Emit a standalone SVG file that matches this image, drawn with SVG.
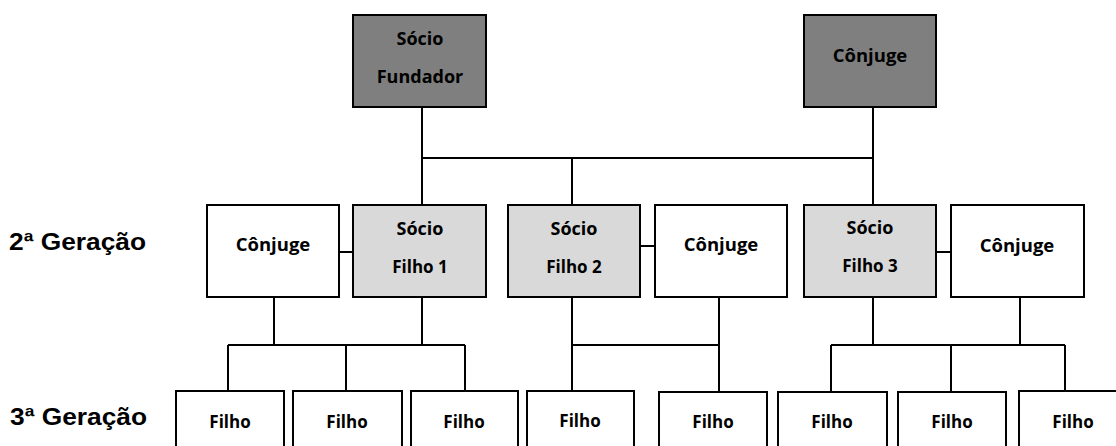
<svg xmlns="http://www.w3.org/2000/svg" width="1116" height="446" viewBox="0 0 1116 446">
<style>
.box{stroke:#000;stroke-width:2}
.dark{fill:#7f7f7f}
.light{fill:#d9d9d9}
.white{fill:#fff}
.t{font-family:"Open Sans","Liberation Sans",sans-serif;font-weight:700;font-size:17px;fill:#000;text-anchor:middle}
.s{font-size:18px}
.cj{font-size:18.5px}
.lvl{font-family:"Liberation Sans",Arial,sans-serif;font-weight:700;font-size:24px;fill:#000}
.c{stroke:#000;stroke-width:2;fill:none}
</style>
<rect x="0" y="0" width="1116" height="446" fill="#fff"/>
<g id="connectors">
<path class="c" d="M422 107V205M873 107V205M422 158H873M572 158V205"/>
<path class="c" d="M339 252H353M640 246H655M936 252H951"/>
<path class="c" d="M274 297V345M422 297V345M228 345H465M228 345V391M346 345V391M465 345V391"/>
<path class="c" d="M572 297V391M719 297V391M572 345H719"/>
<path class="c" d="M873 297V345M1020 297V345M831 345H1065M831 345V391M951 345V391M1065 345V391"/>
</g>
<text class="lvl" x="9" y="250" textLength="137" lengthAdjust="spacingAndGlyphs">2ª Geração</text>
<text class="lvl" x="10" y="425" textLength="137" lengthAdjust="spacingAndGlyphs">3ª Geração</text>
<g id="socio-fundador"><rect class="box dark" x="353" y="15" width="133" height="92"/><text class="t s" x="420" y="45">Sócio</text><text class="t s" x="420" y="83">Fundador</text></g>
<g id="conjuge-top"><rect class="box dark" x="804" y="15" width="132" height="92"/><text class="t cj" x="870" y="62">Cônjuge</text></g>
<g id="conjuge-1"><rect class="box white" x="207" y="205" width="132" height="92"/><text class="t cj" x="273" y="251">Cônjuge</text></g>
<g id="socio-filho-1"><rect class="box light" x="353" y="205" width="133" height="92"/><text class="t s" x="420" y="235">Sócio</text><text class="t" x="420" y="273">Filho 1</text></g>
<g id="socio-filho-2"><rect class="box light" x="508" y="205" width="132" height="92"/><text class="t s" x="574" y="235">Sócio</text><text class="t" x="574" y="273">Filho 2</text></g>
<g id="conjuge-2"><rect class="box white" x="655" y="205" width="132" height="92"/><text class="t cj" x="721" y="251">Cônjuge</text></g>
<g id="socio-filho-3"><rect class="box light" x="804" y="205" width="132" height="92"/><text class="t s" x="870" y="234">Sócio</text><text class="t" x="870" y="272">Filho 3</text></g>
<g id="conjuge-3"><rect class="box white" x="951" y="205" width="133" height="92"/><text class="t cj" x="1017" y="252">Cônjuge</text></g>
<g id="filho-1"><rect class="box white" x="176" y="391" width="108" height="70"/><text class="t" x="230" y="428">Filho</text></g>
<g id="filho-2"><rect class="box white" x="293" y="391" width="109" height="70"/><text class="t" x="347" y="428">Filho</text></g>
<g id="filho-3"><rect class="box white" x="411" y="391" width="107" height="70"/><text class="t" x="464" y="428">Filho</text></g>
<g id="filho-4"><rect class="box white" x="527" y="391" width="107" height="70"/><text class="t" x="580" y="427">Filho</text></g>
<g id="filho-5"><rect class="box white" x="659" y="392" width="108" height="70"/><text class="t" x="713" y="428">Filho</text></g>
<g id="filho-6"><rect class="box white" x="778" y="392" width="109" height="70"/><text class="t" x="832" y="428">Filho</text></g>
<g id="filho-7"><rect class="box white" x="898" y="392" width="108" height="70"/><text class="t" x="952" y="428">Filho</text></g>
<g id="filho-8"><rect class="box white" x="1019" y="391" width="108" height="70"/><text class="t" x="1073" y="428">Filho</text></g>
</svg>
